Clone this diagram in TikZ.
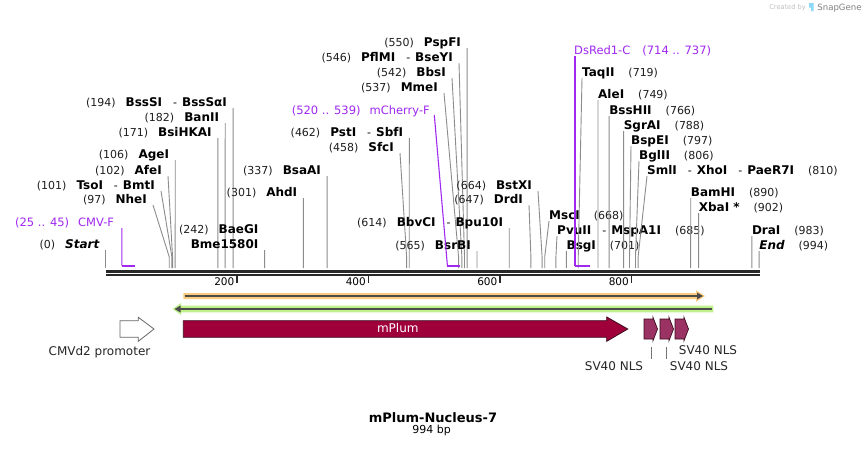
\documentclass[tikz,border=0pt]{standalone}
\usepackage{fontspec}
\setmainfont{DejaVu Sans}[ItalicFont={DejaVu Sans Oblique},BoldFont={DejaVu Sans Bold},BoldItalicFont={DejaVu Sans Bold Oblique}]
\usetikzlibrary{calc,arrows.meta}
\definecolor{prim}{RGB}{160,40,240}
\definecolor{enzl}{RGB}{140,140,140}
\definecolor{seqc}{RGB}{40,40,40}
\definecolor{orng}{RGB}{250,202,125}
\definecolor{grn}{RGB}{192,240,140}
\definecolor{plum}{RGB}{160,0,58}
\definecolor{plumd}{RGB}{60,10,30}
\definecolor{nlsc}{RGB}{155,50,100}
\definecolor{posc}{RGB}{30,30,30}
\definecolor{darkl}{RGB}{75,75,75}
\newcommand\fpos{\fontsize{11}{13}\selectfont}
\newcommand\fnam{\fontsize{12}{14}\selectfont\bfseries}
\newcommand\fprm{\fontsize{11.5}{13}\selectfont}
\newcommand\LP[2]{{\fpos\color{posc}(#1)}\hspace{10pt}{\fnam #2}}
\newcommand\RP[2]{{\fnam #1}\hspace{14pt}{\fpos\color{posc}(#2)}}
\newcommand\Dsh{\hspace{11pt}{\fpos\mdseries -}\hspace{5pt}}
\tikzset{
  lblL/.style={anchor=base east, inner sep=0pt},
  lblR/.style={anchor=base west, inner sep=0pt},
  enz/.style={draw=enzl, line width=0.9pt},
  primer/.style={draw=prim, line width=1.1pt},
  primbar/.style={draw=prim, line width=2pt},
  featlab/.style={anchor=base, inner sep=0pt, font=\fontsize{12}{14}\selectfont, text=black!85},
  ruler/.style={draw=seqc, line width=1.5pt},
  ticklab/.style={anchor=base east, inner sep=0pt, font=\fontsize{10.5}{12}\selectfont},
}
\newcommand\EnzL[5]{%
  \node[lblL] (#1) at (#2,{#3+4.3}) {#4};
  \coordinate (#1s) at ({105.5+0.6575*#5},268);
  \draw[enz] ($(#1.base east)+(6,1.7)$) -- ($(#1s)+(0,-11)$) -- (#1s);
}
\newcommand\EnzR[5]{%
  \node[lblR] (#1) at (#2,{#3+4.3}) {#4};
  \coordinate (#1s) at ({105.5+0.6575*#5},268);
  \draw[enz] ($(#1.base west)+(0,1.7)$) -- ($(#1s)+(0,-11)$) -- (#1s);
}
\newcommand\NLSarrow[2]{%
  \filldraw[fill=nlsc, draw=plumd, line width=0.7pt] (#1,319) -- ({#1+9},319) -- ({#1+9},317.3) -- ({#1+13.5},329) -- ({#1+9},340.7) -- ({#1+9},339) -- (#1,339) -- cycle;
  \coordinate (#2) at ({#1+7},339);
}
\begin{document}
\begin{tikzpicture}[x=1pt,y=-1pt]
\useasboundingbox[fill=white] (0,0) rectangle (866,448);

% watermark
\node[anchor=base, inner sep=0pt, text=black!25, font=\fontsize{6.6}{8}\selectfont] (wm1) at (787.5,9.2) {Created by};
\fill[cyan!45] (809,3) -- (813.5,3) -- (813.5,11) -- (811,11) -- (811,7.5) -- (809,7.5) -- cycle;
\node[anchor=base, inner sep=0pt, text=black!50, font=\fontsize{8.6}{10}\selectfont] (wm2) at (839.5,10.2) {SnapGene};

% sequence line
\coordinate (seqL) at (106,271);
\coordinate (seqR) at (759.5,271);
\draw[draw=seqc, line width=3pt] (seqL) -- (seqR);
\draw[draw=seqc, line width=2pt] ($(seqL)+(0,4)$) -- ($(seqR)+(0,4)$);

% ruler ticks
\foreach \v in {200,400,600,800}{
  \coordinate (t\v) at ({105.5+0.6575*\v},276);
  \draw[ruler] (t\v) -- ++(0,7);
  \node[ticklab] at ($(t\v)+(-2.5,9.8)$) {\v};
}

% enzymes, left-labelled
\EnzL{start}{99.5}{244}{{\fpos\color{posc}(0)}\hspace{10pt}{\fnam\itshape Start}}{0}
\EnzL{nhe}{147}{199}{\LP{97}{NheI}}{97}
\EnzL{tso}{155}{185}{\LP{101}{TsoI\Dsh BmtI}}{101}
\EnzL{afe}{162}{170}{\LP{102}{AfeI}}{102}
\EnzL{age}{169.2}{154}{\LP{106}{AgeI}}{106}
\EnzL{bsi}{211.9}{132}{\LP{171}{BsiHKAI}}{171}
\EnzL{ban}{219.2}{117}{\LP{182}{BanII}}{182}
\EnzL{bss}{227.1}{102}{\LP{194}{BssSI\Dsh BssSαI}}{194}
\node[lblL] (baeg) at (258.6,233.3) {\LP{242}{BaeGI}};
\EnzL{bme}{258.6}{244}{{\fnam Bme1580I}}{242}
\EnzL{ahd}{297.4}{192}{\LP{301}{AhdI}}{301}
\EnzL{bsaa}{321.1}{170}{\LP{337}{BsaAI}}{337}
\EnzL{sfc}{394}{147}{\LP{458}{SfcI}}{458}
\EnzL{pst}{403.3}{132}{\LP{462}{PstI\Dsh SbfI}}{462}
\EnzL{mme}{438}{87}{\LP{537}{MmeI}}{537}
\EnzL{bbs}{446}{72}{\LP{542}{BbsI}}{542}
\EnzL{pfl}{453}{57}{\LP{546}{PflMI\Dsh BseYI}}{546}
\EnzL{psp}{461.1}{42}{\LP{550}{PspFI}}{550}
\EnzL{bsrb}{471}{245}{\LP{565}{BsrBI}}{565}
\EnzL{bbv}{503.2}{222}{\LP{614}{BbvCI\Dsh Bpu10I}}{614}
\EnzL{drd}{523}{199}{\LP{647}{DrdI}}{647}
\EnzL{bstx}{532}{185}{\LP{664}{BstXI}}{664}

% enzymes, right-labelled
\EnzR{msc}{549}{215}{\RP{MscI}{668}}{668}
\EnzR{pvu}{557}{230}{\RP{PvuII\Dsh MspA1I}{685}}{685}
\EnzR{bsg}{566.4}{245}{\RP{BsgI}{701}}{701}
\EnzR{taq}{582}{72}{\RP{TaqII}{719}}{719}
\EnzR{ale}{598}{94}{\RP{AleI}{749}}{749}
\EnzR{bsh}{609.1}{110}{\RP{BssHII}{766}}{766}
\EnzR{sgr}{623.6}{125}{\RP{SgrAI}{788}}{788}
\EnzR{bspe}{631}{140}{\RP{BspEI}{797}}{797}
\EnzR{bgl}{639}{155}{\RP{BglII}{806}}{806}
\EnzR{sml}{647}{170}{\RP{SmlI\Dsh XhoI\Dsh PaeR7I}{810}}{810}
\EnzR{bam}{690.7}{192}{\RP{BamHI}{890}}{890}
\EnzR{xba}{698.6}{207}{\RP{XbaI *}{902}}{902}
\EnzR{dra}{751.8}{230}{\RP{DraI}{983}}{983}
\EnzR{endn}{759.1}{245}{{\fnam\itshape End}\hspace{14pt}{\fpos\color{posc}(994)}}{994}

% primers
\node[lblL, text=prim, font=\fprm] (cmvlab) at (114.3,226.2) {(25 .. 45)\hspace{9pt}CMV-F};
\coordinate (cmvA) at (121.9,265.7);
\coordinate (cmvB) at (135.1,265.7);
\draw[primer] ($(cmvlab.base east)+(7.6,1.8)$) -- (cmvA);
\draw[primbar] (cmvA) -- (cmvB);

\node[lblL, text=prim, font=\fprm] (mchlab) at (430,114.2) {(520 .. 539)\hspace{9pt}mCherry-F};
\coordinate (mchA) at (447.4,265.7);
\coordinate (mchB) at (459.9,265.7);
\draw[primer] ($(mchlab.base east)+(4.3,0.8)$) -- (mchA);
\draw[primbar] (mchA) -- (mchB);

\node[lblR, text=prim, font=\fprm] (dslab) at (574,54.2) {DsRed1-C\hspace{12pt}(714 .. 737)};
\coordinate (dsA) at (575,265.7);
\coordinate (dsB) at (590.1,265.7);
\draw[primer] ($(dslab.base west)+(1,1.8)$) -- (dsA);
\draw[primbar] (dsA) -- (dsB);

% orange arrow (forward)
\fill[orng] (183.3,293) -- (696,293) -- (696,290.3) -- (705,296) -- (696,301.7) -- (696,299) -- (183.3,299) -- cycle;
\draw[draw=darkl, line width=1.6pt, -{Triangle[length=6pt,width=6.5pt]}] (184.5,296) -- (703,296);

% green arrow (reverse)
\fill[grn] (713.3,305.7) -- (181,305.7) -- (181,303) -- (172.5,309) -- (181,315) -- (181,312.3) -- (713.3,312.3) -- cycle;
\draw[draw=darkl, line width=1.6pt, -{Triangle[length=6pt,width=6.5pt]}] (712,309) -- (174.5,309);

% features
\draw[draw=black!60, fill=white, line width=0.8pt] (120,320.7) -- (138.3,320.7) -- (138.3,317.3) -- (154,329) -- (138.3,341.3) -- (138.3,337.3) -- (120,337.3) -- cycle;
\node[featlab] (cmvd2) at (99.5,355.2) {CMVd2 promoter};

\filldraw[fill=plum, draw=plumd, line width=0.8pt] (183.3,320.7) -- (606.7,320.7) -- (606.7,317) -- (627.7,329) -- (606.7,341.3) -- (606.7,337.3) -- (183.3,337.3) -- cycle;
\node[featlab, text=white] (mplum) at (397.8,332.8) {mPlum};

\NLSarrow{644}{nlsA}
\NLSarrow{660}{nlsB}
\NLSarrow{675}{nlsC}
\draw[draw=black!55, line width=0.8pt] ($(nlsA)+(0.7,8.3)$) -- ($(nlsA)+(0.7,20)$);
\draw[draw=black!55, line width=0.8pt] ($(nlsB)+(-0.3,8.3)$) -- ($(nlsB)+(-0.3,20)$);
\node[featlab] (sv1) at (614,370.6) {SV40 NLS};
\node[featlab] (sv2) at (699,370.6) {SV40 NLS};
\node[featlab] (sv3) at (708,354.6) {SV40 NLS};

% title
\node[anchor=base, inner sep=0pt, font=\fontsize{13}{15}\selectfont\bfseries] (title) at (433,422.4) {mPlum-Nucleus-7};
\node[anchor=base, inner sep=0pt, font=\fontsize{11}{13}\selectfont] (bp) at (431.7,433.2) {994 bp};
\end{tikzpicture}
\end{document}
